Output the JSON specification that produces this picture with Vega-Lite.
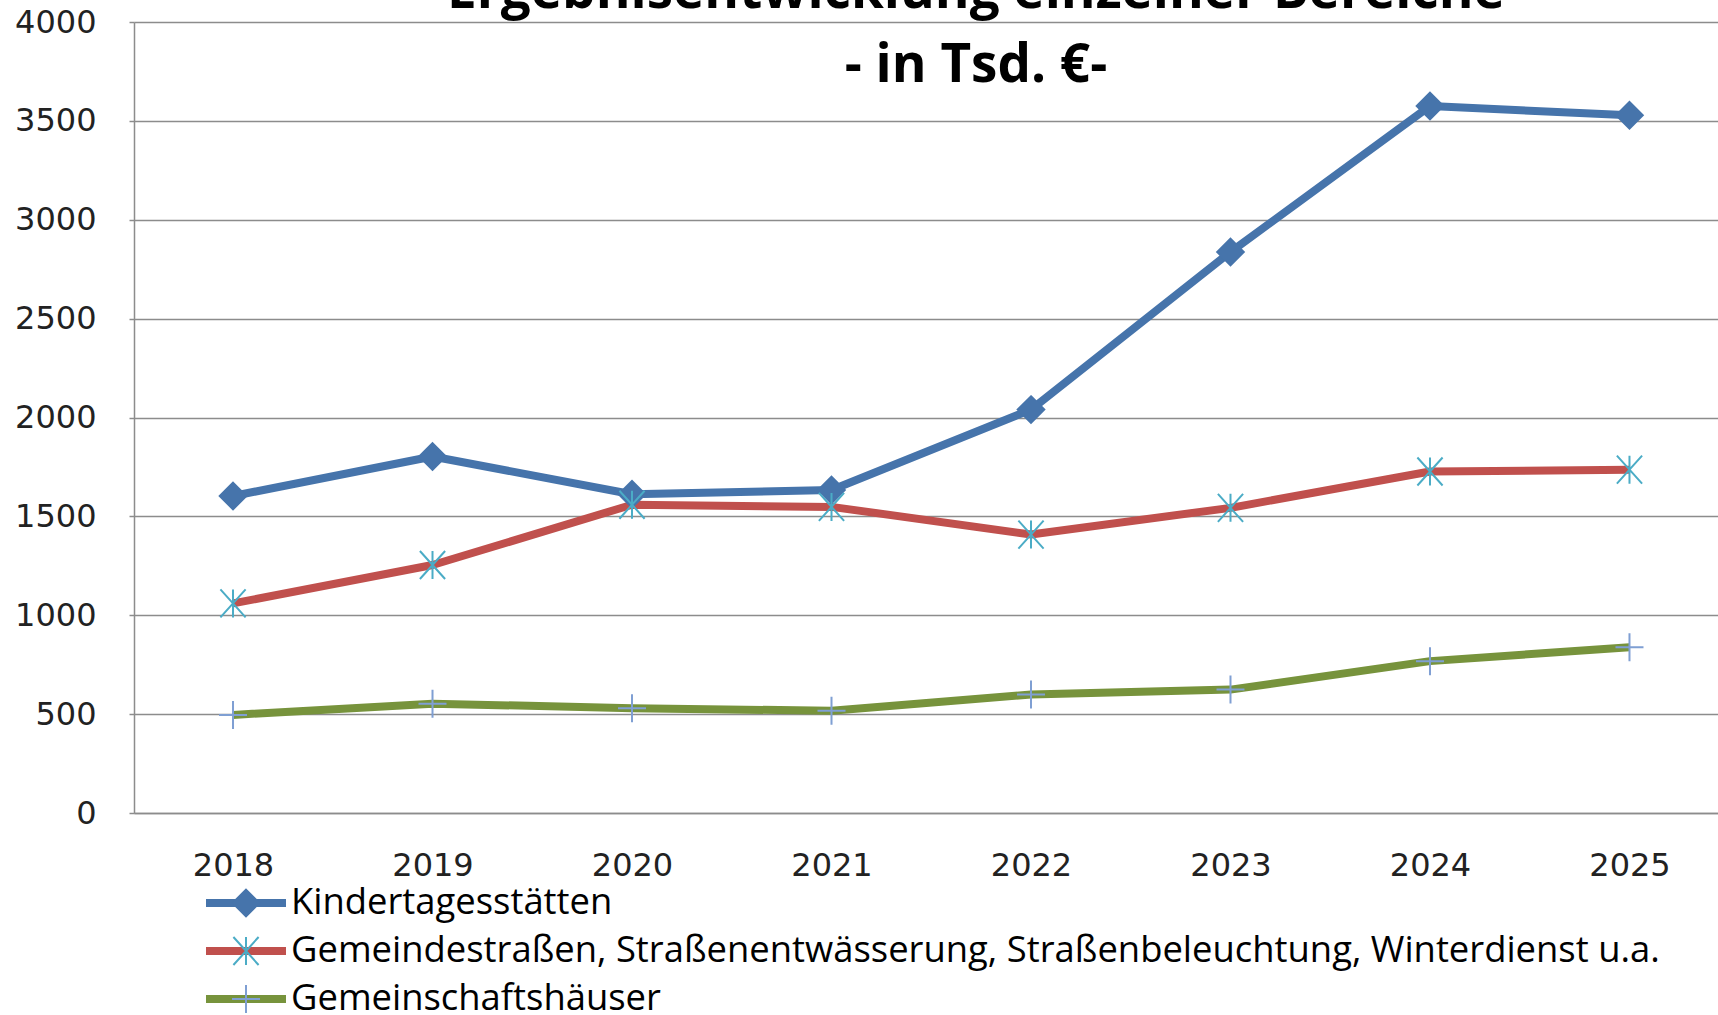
{
  "$schema": "https://vega.github.io/schema/vega-lite/v6.json",
  "autosize": {"type": "none"},
  "padding": {"left": 134, "top": 22, "right": 0, "bottom": 202},
  "width": 1584,
  "height": 791,
  "background": "white",
  "title": {
    "text": ["Ergebnisentwicklung einzelner Bereiche", "- in Tsd. €-"],
    "font": "Open Sans",
    "fontSize": 53,
    "fontWeight": "bold",
    "color": "#000000",
    "lineHeight": 74,
    "anchor": "middle",
    "baseline": "alphabetic",
    "dx": 50,
    "offset": -129
  },
  "config": {
    "view": {"stroke": null},
    "axis": {"labelFont": "DejaVu Sans", "labelFontSize": 32, "labelColor": "#222222"}
  },
  "data": {
    "values": [
      {"series": "Kindertagesstätten", "year": "2018", "value": 1603},
      {"series": "Kindertagesstätten", "year": "2019", "value": 1803},
      {"series": "Kindertagesstätten", "year": "2020", "value": 1612},
      {"series": "Kindertagesstätten", "year": "2021", "value": 1633},
      {"series": "Kindertagesstätten", "year": "2022", "value": 2040},
      {"series": "Kindertagesstätten", "year": "2023", "value": 2837},
      {"series": "Kindertagesstätten", "year": "2024", "value": 3575},
      {"series": "Kindertagesstätten", "year": "2025", "value": 3528},
      {"series": "Gemeindestraßen, Straßenentwässerung, Straßenbeleuchtung, Winterdienst u.a.", "year": "2018", "value": 1060},
      {"series": "Gemeindestraßen, Straßenentwässerung, Straßenbeleuchtung, Winterdienst u.a.", "year": "2019", "value": 1254},
      {"series": "Gemeindestraßen, Straßenentwässerung, Straßenbeleuchtung, Winterdienst u.a.", "year": "2020", "value": 1559},
      {"series": "Gemeindestraßen, Straßenentwässerung, Straßenbeleuchtung, Winterdienst u.a.", "year": "2021", "value": 1548},
      {"series": "Gemeindestraßen, Straßenentwässerung, Straßenbeleuchtung, Winterdienst u.a.", "year": "2022", "value": 1408},
      {"series": "Gemeindestraßen, Straßenentwässerung, Straßenbeleuchtung, Winterdienst u.a.", "year": "2023", "value": 1543},
      {"series": "Gemeindestraßen, Straßenentwässerung, Straßenbeleuchtung, Winterdienst u.a.", "year": "2024", "value": 1727},
      {"series": "Gemeindestraßen, Straßenentwässerung, Straßenbeleuchtung, Winterdienst u.a.", "year": "2025", "value": 1736},
      {"series": "Gemeinschaftshäuser", "year": "2018", "value": 496},
      {"series": "Gemeinschaftshäuser", "year": "2019", "value": 553},
      {"series": "Gemeinschaftshäuser", "year": "2020", "value": 530},
      {"series": "Gemeinschaftshäuser", "year": "2021", "value": 517},
      {"series": "Gemeinschaftshäuser", "year": "2022", "value": 599},
      {"series": "Gemeinschaftshäuser", "year": "2023", "value": 624},
      {"series": "Gemeinschaftshäuser", "year": "2024", "value": 768},
      {"series": "Gemeinschaftshäuser", "year": "2025", "value": 838}
    ]
  },
  "encoding": {
    "x": {
      "field": "year", "type": "ordinal",
      "scale": {"type": "point", "padding": 0.47, "align": 0.528},
      "axis": {"title": null, "labelAngle": 0, "ticks": false, "labelPadding": 37, "domainColor": "#8c8c8c", "domainWidth": 1.5, "grid": false}
    },
    "y": {
      "field": "value", "type": "quantitative",
      "scale": {"domain": [0, 4000], "nice": false},
      "axis": {"title": null, "format": "d", "values": [0, 500, 1000, 1500, 2000, 2500, 3000, 3500, 4000], "grid": true, "gridColor": "#8c8c8c", "gridWidth": 1.5, "domainColor": "#8c8c8c", "domainWidth": 1.5, "tickColor": "#8c8c8c", "tickSize": 5, "tickWidth": 1.5, "labelPadding": 33}
    }
  },
  "resolve": {
    "scale": {"color": "independent", "shape": "independent"},
    "legend": {"color": "independent", "shape": "independent"}
  },
  "layer": [
    {
      "mark": {"type": "line", "strokeWidth": 8, "strokeJoin": "round"},
      "encoding": {
        "color": {
          "field": "series", "type": "nominal",
          "scale": {
            "domain": ["Kindertagesstätten", "Gemeindestraßen, Straßenentwässerung, Straßenbeleuchtung, Winterdienst u.a.", "Gemeinschaftshäuser"],
            "range": ["#4674ab", "#c0504d", "#77933c"]
          },
          "legend": {
            "orient": "none", "legendX": 68, "legendY": 857, "direction": "vertical",
            "title": null, "symbolType": "stroke", "symbolSize": 6400, "symbolStrokeWidth": 8,
            "clipHeight": 48, "rowPadding": 0, "padding": 0, "labelOffset": 1,
            "labelFont": "Open Sans", "labelFontSize": 36.4, "labelColor": "#000000", "labelLimit": 2000
          }
        }
      }
    },
    {
      "mark": {"type": "point", "opacity": 1, "size": 784, "strokeWidth": 2, "filled": false},
      "encoding": {
        "color": {
          "field": "series", "type": "nominal",
          "scale": {
            "domain": ["Kindertagesstätten", "Gemeindestraßen, Straßenentwässerung, Straßenbeleuchtung, Winterdienst u.a.", "Gemeinschaftshäuser"],
            "range": ["#4674ab", "#4bacc6", "#7f9fd3"]
          },
          "legend": {
            "orient": "none", "legendX": 97, "legendY": 857, "direction": "vertical",
            "title": null, "symbolSize": 784, "symbolStrokeWidth": 2,
            "clipHeight": 48, "rowPadding": 0, "padding": 0, "labelExpr": "''", "labelOffset": 0
          }
        },
        "shape": {
          "field": "series", "type": "nominal",
          "scale": {
            "domain": ["Kindertagesstätten", "Gemeindestraßen, Straßenentwässerung, Straßenbeleuchtung, Winterdienst u.a.", "Gemeinschaftshäuser"],
            "range": [
              "M0,-0.95L0.95,0L0,0.95L-0.95,0Z M0,-0.82L0.82,0L0,0.82L-0.82,0Z M0,-0.69L0.69,0L0,0.69L-0.69,0Z M0,-0.56L0.56,0L0,0.56L-0.56,0Z M0,-0.43L0.43,0L0,0.43L-0.43,0Z M0,-0.3L0.3,0L0,0.3L-0.3,0Z M0,-0.17L0.17,0L0,0.17L-0.17,0Z M0,-0.05L0.05,0L0,0.05L-0.05,0Z",
              "M-0.9,-1L0.9,1M-0.9,1L0.9,-1M0,-1L0,1",
              "M-1,0L1,0M0,-1L0,1"
            ]
          },
          "legend": {
            "orient": "none", "legendX": 97, "legendY": 857, "direction": "vertical",
            "title": null, "symbolSize": 784, "symbolStrokeWidth": 2,
            "clipHeight": 48, "rowPadding": 0, "padding": 0, "labelExpr": "''", "labelOffset": 0
          }
        }
      }
    }
  ]
}
